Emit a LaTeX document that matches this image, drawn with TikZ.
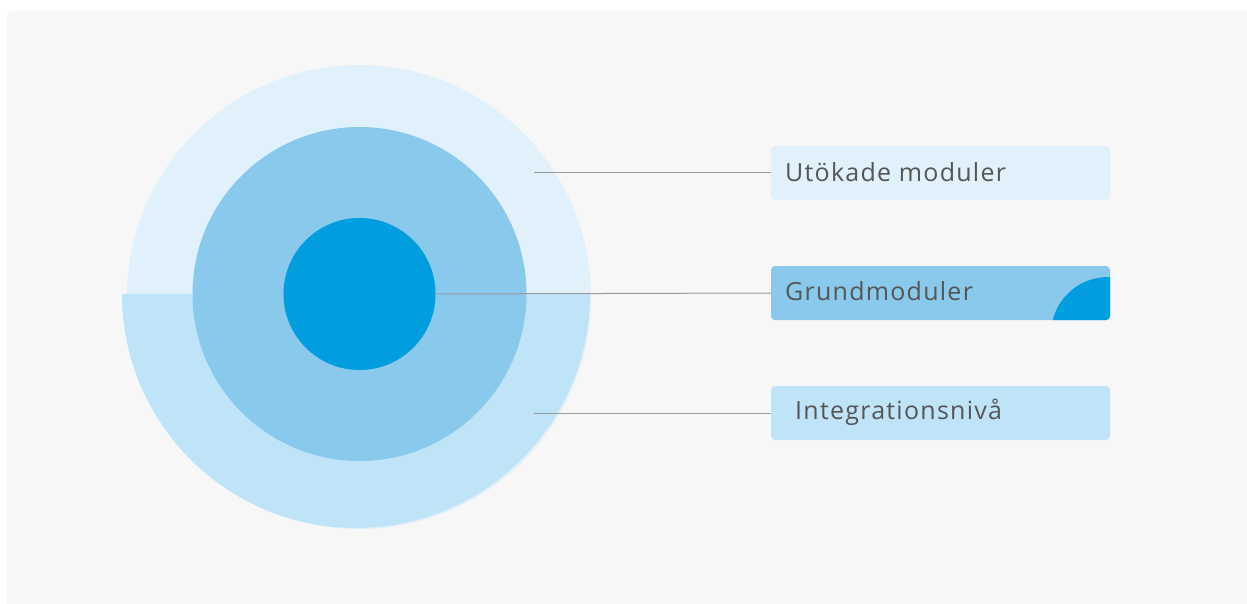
\documentclass[tikz,border=0pt]{standalone}
\usepackage{fontspec}
\setmainfont{Open Sans}[LetterSpace=5]
\begin{document}
\begin{tikzpicture}[x=1pt,y=-1pt,
  conn/.style={draw=linegray,line width=1pt},
  label/.style={font=\fontsize{25}{29}\selectfont,text=textgray,anchor=west,inner sep=0pt},
  lbox/.style={rounded corners=4pt}]
\definecolor{bggray}{HTML}{F7F7F7}
\definecolor{paleblue}{HTML}{E0F1FB}
\definecolor{midpale}{HTML}{C0E4F7}
\definecolor{midblue}{HTML}{89C9EC}
\definecolor{deepblue}{HTML}{009DDF}
\definecolor{linegray}{HTML}{9A9A9A}
\definecolor{textgray}{HTML}{555555}
\useasboundingbox (0,0) rectangle (1247,604);
\fill[white] (0,0) rectangle (1247,604);
\fill[bggray,rounded corners=6pt] (7,11) rectangle (1260,620);
% circles
\fill[paleblue] (359,297) circle (232);
\begin{scope}
  \clip (100,294) rectangle (620,560);
  \fill[midpale] (356,294) circle (234);
\end{scope}
\fill[midblue] (359.5,294) circle (167);
\node[circle,fill=deepblue,minimum size=152pt,inner sep=0pt] (core) at (359.5,294) {};
% connector start points
\coordinate (p1) at (534,173);
\coordinate (p3) at (534,413);
% boxes
\fill[paleblue,lbox] (771,146) rectangle (1110,200);
\fill[midblue,lbox] (771,266) rectangle (1110,320);
\begin{scope}
  \clip[lbox] (771,266) rectangle (1110,320);
  \fill[deepblue] (1108,334) circle (57);
\end{scope}
\fill[midpale,lbox] (771,386) rectangle (1110,440);
\coordinate (b1) at (771,173);
\coordinate (b2) at (771,293);
\coordinate (b3) at (771,413);
\node[label] (t1) at (785,172) {Utökade moduler};
\node[label] (t2) at (785,291) {Grundmoduler};
\node[label] (t3) at (795,412) {Integrationsnivå};
\draw[conn] (p1) -- (b1);
\draw[conn] (core.east) -- (b2);
\draw[conn] (p3) -- (b3);
\end{tikzpicture}
\end{document}
